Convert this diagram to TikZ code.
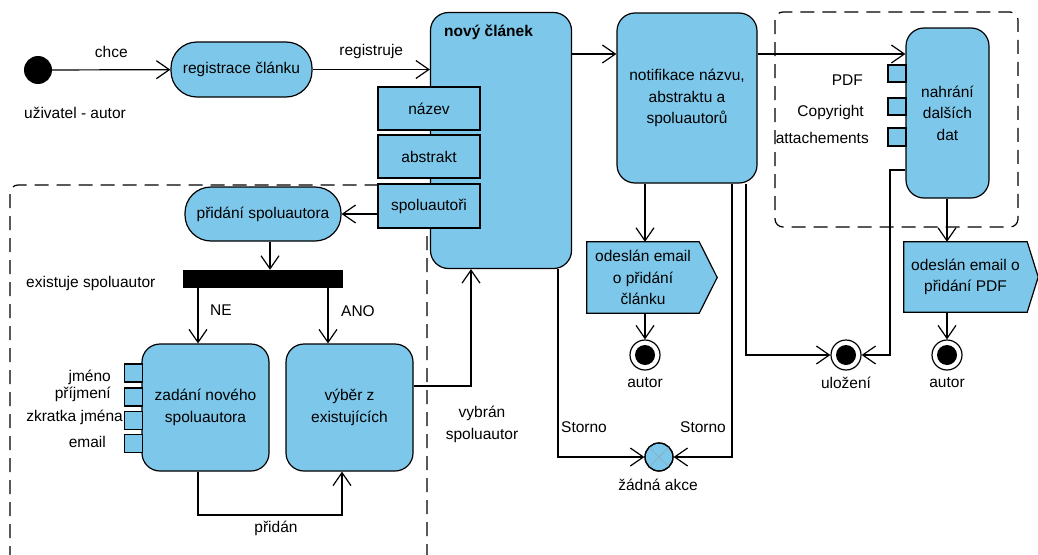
\documentclass[tikz,border=0pt]{standalone}
\usepackage{fontspec}
\setmainfont{Liberation Sans}
\usetikzlibrary{arrows.meta,backgrounds,calc}
\definecolor{ablue}{RGB}{125,200,234}
\definecolor{xcol}{RGB}{140,175,200}
\begin{document}
\begin{tikzpicture}[x=1pt,y=-1pt,
  every node/.style={font=\fontsize{15.5}{21.5}\selectfont, inner sep=0pt},
  base/.style={draw, fill=ablue, line width=1.2pt, align=center},
  act/.style={base, rounded corners=18pt},
  pill/.style={base, rounded corners=26pt},
  pinbox/.style={base, rectangle},
  startnode/.style={circle, fill=black, minimum size=28pt},
  endnode/.style={circle, draw, fill=white, line width=1.2pt, minimum size=30pt},
  flowfinal/.style={circle, draw, fill=ablue, line width=1.2pt, minimum size=28pt},
  line/.style={line width=1.2pt},
  arr/.style={line, -{Straight Barb[length=13pt,width=18pt,line width=1.2pt]}},
  dsh/.style={line width=1.2pt, dash pattern=on 14pt off 8pt, rounded corners=8pt},
  sig/.style={draw, fill=ablue, line width=1.2pt}
]
\useasboundingbox (0,0) rectangle (1038,554);

% dashed regions
\draw[dsh] (10,560) -- (10,185) -- (427,185) -- (427,560);
\draw[dsh] (775,12) rectangle (1018,227);

% start
\node[startnode] (start) at (38,70) {};
\node (lblUser) at (75,113) {uživatel - autor};
\node[pill, minimum width=141pt, minimum height=55pt] (reg) at (241.5,69.5) {registrace článku};
\draw[arr] (start) -- node[yshift=18pt] (lblChce) {chce} (reg);

% novy clanek
\node[act, minimum width=141pt, minimum height=256pt] (novy) at (501,140.5) {};
\node[anchor=west, font=\fontsize{15.5}{18}\selectfont\bfseries] (novyT) at (444,32) {nový článek};
\draw[arr] (reg) -- node[yshift=18pt] (lblReg) {registruje} (reg -| novy.west);

\node[pinbox, minimum width=102pt, minimum height=43pt] (nazev) at (429,108.5) {název};
\node[pinbox, minimum width=102pt, minimum height=43pt] (abstr) at (429,156.5) {abstrakt};
\node[pinbox, minimum width=102pt, minimum height=44pt] (spolu) at (429,206) {spoluautoři};

% notifikace
\coordinate (y54) at (0,54);
\node[act, minimum width=140pt, minimum height=170pt] (notif) at (687,98) {notifikace názvu,\\abstraktu a\\spoluautorů};
\draw[arr] (novy.east |- y54) -- (notif.west |- y54);

% email 1
\node[minimum width=112pt, minimum height=71pt, align=center] (em1) at (643,277.5) {odeslán email\\o přidání\\článku};
\begin{scope}[on background layer]
\draw[sig] (em1.north west) -- (em1.north east) -- ($(em1.east)+(18,0)$) -- (em1.south east) -- (em1.south west) -- cycle;
\end{scope}
\node[endnode] (end1) at (645,355) {};
\fill (end1) circle (10pt);
\node (lblEnd1) at (645,383) {autor};
\draw[arr] (notif.south -| end1) -- (em1.north -| end1);
\draw[arr] (em1.south -| end1) -- (end1);

% zadna akce
\node[flowfinal] (nada) at (659,457) {};
\draw[xcol, line width=0.8pt] (nada.north west) -- (nada.south east) (nada.north east) -- (nada.south west);
\draw[line width=1.2pt] (nada) circle (14pt);
\node (lblNada) at (658,485) {žádná akce};
\draw[arr] ([xshift=57pt]novy.south) |- (nada);
\draw[arr] ([xshift=45pt]notif.south) |- (nada);
\node (lblSt1) at (584,427) {Storno};
\node (lblSt2) at (703,427) {Storno};

% ulozeni
\node[endnode] (ulozeni) at (846,355) {};
\fill (ulozeni) circle (10pt);
\node (lblUloz) at (846,383) {uložení};
\draw[arr] ([xshift=59pt]notif.south) |- (ulozeni);

% nahrani
\node[act, minimum width=83pt, minimum height=170pt] (nahr) at (947.5,113) {nahrání\\dalších\\dat};
\draw[arr] (notif.east |- y54) -- (nahr.west |- y54);
\node[pinbox, minimum width=18pt, minimum height=17pt] (pPDF) at (897,73.5) {};
\node[pinbox, minimum width=18pt, minimum height=17pt] (pCopy) at (897,106.5) {};
\node[pinbox, minimum width=18pt, minimum height=18pt] (pAtt) at (897,137) {};
\node[anchor=east] (lPDF) at (863,80) {PDF};
\node[anchor=east] (lCopy) at (864,112) {Copyright};
\node[anchor=east] (lAtt) at (869,138) {attachements};
\coordinate (c890) at (890,170);
\draw[arr] (nahr.west |- c890) -- (c890) |- (ulozeni);

% email 2
\node[minimum width=123pt, minimum height=70pt, align=center] (em2) at (965.5,277) {odeslán email o\\přidání PDF};
\begin{scope}[on background layer]
\draw[sig] (em2.north west) -- (em2.north east) -- ($(em2.east)+(11,0)$) -- (em2.south east) -- (em2.south west) -- cycle;
\end{scope}
\node[endnode] (end3) at (947,355) {};
\fill (end3) circle (10pt);
\node (lblEnd3) at (947,383) {autor};
\draw[arr] (nahr.south -| end3) -- (em2.north -| end3);
\draw[arr] (em2.south -| end3) -- (end3);

% pridani spoluautora
\node[pill, minimum width=156pt, minimum height=54pt] (prid) at (263,214) {přidání spoluautora};
\draw[arr] (spolu.west |- prid.east) -- (prid.east);
\node[fill=black, minimum width=160pt, minimum height=18pt] (bar) at (263,279) {};
\draw[arr] ([xshift=7pt]prid.south) -- ([xshift=7pt]bar.north);
\node[anchor=west] (lblExist) at (26,283) {existuje spoluautor};

% zadani / vyber
\node[act, minimum width=127pt, minimum height=127pt] (zad) at (205.5,407.5) {zadání nového\\spoluautora};
\node[act, minimum width=127pt, minimum height=127pt] (vyb) at (349.5,407.5) {výběr z\\existujících};
\coordinate (c198) at (198,515);
\coordinate (c342) at (342,515);
\coordinate (c328) at (328,300);
\draw[arr] (bar.south -| c198) -- (zad.north -| c198);
\draw[arr] (bar.south -| c328) -- (vyb.north -| c328);
\node (lblNE) at (221,310) {NE};
\node (lblANO) at (358,311) {ANO};

\node[pinbox, minimum width=18pt, minimum height=18pt] (pJm) at (133.5,373) {};
\node[pinbox, minimum width=18pt, minimum height=18pt] (pPr) at (133.5,397) {};
\node[pinbox, minimum width=18pt, minimum height=18pt] (pZk) at (133.5,420.5) {};
\node[pinbox, minimum width=18pt, minimum height=18pt] (pEm) at (133.5,443.5) {};
\node[anchor=east] (lJm) at (111,377) {jméno};
\node[anchor=east] (lPr) at (111,394) {příjmení};
\node[anchor=east] (lZk) at (123,417) {zkratka jména};
\node[anchor=east] (lEm) at (106,442) {email};

\draw[arr] (zad.south -| c198) -- (c198) -| (vyb.south -| c342);
\node (lblPrid) at (276,528) {přidán};

\coordinate (c471) at (471,386);
\draw[arr] (vyb.east |- c471) -| (novy.south -| c471);
\node[align=center, font=\fontsize{15.5}{22}\selectfont] (lblVyb) at (482,424) {vybrán\\spoluautor};
\end{tikzpicture}
\end{document}
